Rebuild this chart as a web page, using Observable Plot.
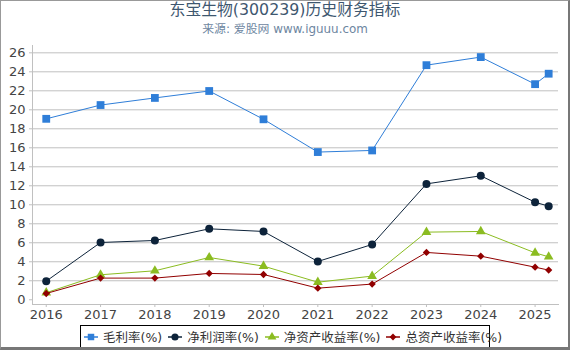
<!DOCTYPE html>
<html><head><meta charset="utf-8">
<script src="https://cdn.jsdelivr.net/npm/d3@7"></script>
<script src="https://cdn.jsdelivr.net/npm/@observablehq/plot@0.6"></script>
<style>
body{margin:0;background:#fff;}
#wrap{position:relative;width:570px;height:350px;overflow:hidden;background:#fff;font-family:"DejaVu Sans","Noto Sans CJK SC",sans-serif;}
#frame{position:absolute;left:0;top:0;width:570px;height:350px;box-sizing:border-box;border-top:1px solid #999;border-left:1px solid #999;border-right:2px solid #777;border-bottom:3px solid #777;pointer-events:none;}
#title{position:absolute;top:0px;left:0;width:570px;text-align:center;font-size:15.5px;color:#3E576F;line-height:20px;}
#sub{position:absolute;top:20px;left:0;width:570px;text-align:center;font-size:12px;color:#6D869F;line-height:18px;}
#title span,#sub span{white-space:nowrap;}
#chart{position:absolute;left:0;top:0;}
#legend{position:absolute;left:80px;top:325px;width:410px;height:23px;box-sizing:border-box;border:1px solid #000;display:flex;align-items:center;padding-left:3px;font-size:12.5px;color:#333;background:#fff;}
.item{display:flex;align-items:center;margin-right:6px;white-space:nowrap;}
.item svg{margin-right:5px;}
</style></head>
<body>
<div id="wrap">
  <div id="chart"></div>
  <div id="title"><span>东宝生物(300239)历史财务指标</span></div>
  <div id="sub"><span>来源: 爱股网 www.iguuu.com</span></div>
  <div id="legend"></div>
  <div id="frame"></div>
</div>
<script>
// Data
const years = [2016, 2017, 2018, 2019, 2020, 2021, 2022, 2023, 2024, 2025, 2025.25];
const xTicks = [2016, 2017, 2018, 2019, 2020, 2021, 2022, 2023, 2024, 2025];
const yTicks = [0, 2, 4, 6, 8, 10, 12, 14, 16, 18, 20, 22, 24, 26];
const grossMargin = [19.05, 20.5, 21.25, 21.98, 19.0, 15.55, 15.72, 24.7, 25.55, 22.7, 23.8];
const netMargin = [1.96, 6.03, 6.24, 7.47, 7.19, 4.03, 5.82, 12.2, 13.05, 10.27, 9.85];
const roe = [0.74, 2.63, 3.05, 4.45, 3.54, 1.85, 2.49, 7.12, 7.19, 4.94, 4.52];
const roa = [0.66, 2.28, 2.28, 2.77, 2.66, 1.22, 1.65, 4.98, 4.59, 3.43, 3.12];

const series = [
  {name: "毛利率(%)", values: grossMargin, color: "#2f7ed8", symbol: "square", r: 4.4},
  {name: "净利润率(%)", values: netMargin, color: "#0d233a", symbol: "circle", r: 4},
  {name: "净资产收益率(%)", values: roe, color: "#8bbc21", symbol: "triangle", r: 3.6},
  {name: "总资产收益率(%)", values: roa, color: "#910000", symbol: "diamond2", r: 3.3}
];

const marks = [
  Plot.gridY(yTicks.filter(d => d > 0), {stroke: "#c0c0c0", strokeOpacity: 1}),
  Plot.frame({anchor: "left", stroke: "#c0c0c0"}),
  Plot.frame({anchor: "bottom", stroke: "#c0c0c0"}),
  Plot.axisY(yTicks, {tickSize: 3, tickPadding: 4, stroke: "#c0c0c0", fill: "#444", fontSize: 13, tickFormat: "d", label: null}),
  Plot.axisX(xTicks, {tickSize: 3, tickPadding: 2, stroke: "#c0c0c0", fill: "#444", fontSize: 13, tickFormat: "d", label: null})
];
for (const s of series) {
  const rows = years.map((x, i) => ({x, y: s.values[i]}));
  marks.push(Plot.line(rows, {x: "x", y: "y", stroke: s.color, strokeWidth: 1}));
  marks.push(Plot.dot(rows, {x: "x", y: "y", fill: s.color, symbol: s.symbol, r: s.r}));
}

const chart = Plot.plot({
  width: 570, height: 350,
  marginTop: 45, marginBottom: 46, marginLeft: 32, marginRight: 12,
  x: {domain: [2015.747, 2025.431], label: null},
  y: {domain: [-0.5, 26.77], label: null},
  style: {fontFamily: '"DejaVu Sans","Noto Sans CJK SC",sans-serif', fontSize: "13px", background: "transparent", overflow: "visible"},
  marks
});
document.getElementById("chart").appendChild(chart);

// Fit title/subtitle widths to the reference
function fit(id, target) {
  const el = document.getElementById(id);
  const span = el.querySelector("span");
  const fs = parseFloat(getComputedStyle(el).fontSize);
  const w = span.getBoundingClientRect().width;
  if (w > 0) el.style.fontSize = (fs * target / w).toFixed(2) + "px";
}
fit("title", 231);
fit("sub", 166);

// Legend
const legend = document.getElementById("legend");
const symPaths = {
  square: d3.symbol(d3.symbolSquare, 42)(),
  circle: d3.symbol(d3.symbolCircle, 40)(),
  triangle: d3.symbol(d3.symbolTriangle, 34)(),
  diamond2: d3.symbol(d3.symbolDiamond2, 30)()
};
for (const s of series) {
  const item = document.createElement("div");
  item.className = "item";
  item.innerHTML = `<svg width="14" height="10" viewBox="-7 -5 14 10"><line x1="-7" x2="7" y1="0" y2="0" stroke="${s.color}" stroke-width="1.5"/><path d="${symPaths[s.symbol]}" fill="${s.color}"/></svg><span>${s.name}</span>`;
  legend.appendChild(item);
}
</script>
</body></html>
